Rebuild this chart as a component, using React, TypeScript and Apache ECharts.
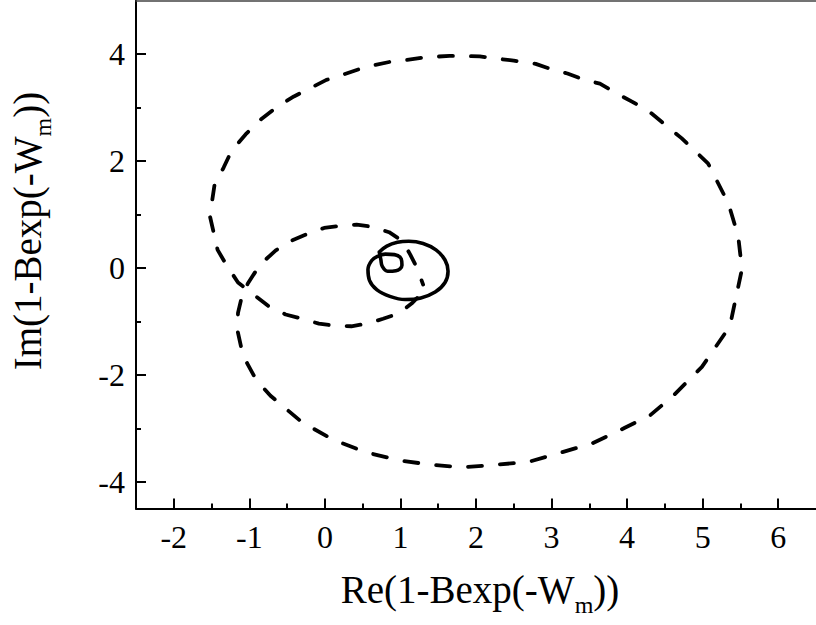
import React, { useEffect, useRef } from "react";
import * as echarts from "echarts";

// ---- data ----
const xMajorTicks = [-2, -1, 0, 1, 2, 3, 4, 5, 6];
const xMinorTicks = [-1.5, -0.5, 0.5, 1.5, 2.5, 3.5, 4.5, 5.5];
const yMajorTicks = [-4, -2, 0, 2, 4];
const yMinorTicks = [-3, -1, 1, 3];

const xTitle = "Re(1-Bexp(-W{m|m}))";
const yTitle = "Im(1-Bexp(-W{m|m}))";

// dashed spiral (Re, Im), in drawing order
const dashedCurve: [number, number][] = [
  [1.22, -0.56], [1.16, -0.65], [0.98, -0.85], [0.77, -0.95], [0.56, -1.04],
  [0.35, -1.09], [0.12, -1.08], [-0.08, -1.04], [-0.3, -0.95], [-0.52, -0.87],
  [-0.74, -0.72], [-0.94, -0.5], [-1.04, -0.39], [-1.15, -0.27], [-1.3, 0.05],
  [-1.42, 0.34], [-1.47, 0.65], [-1.52, 0.96], [-1.49, 1.28], [-1.46, 1.56],
  [-1.34, 1.88], [-1.24, 2.18], [-1.05, 2.5], [-0.84, 2.79], [-0.63, 3.02],
  [-0.41, 3.21], [-0.2, 3.36], [0.02, 3.52], [0.22, 3.61], [0.45, 3.72],
  [0.66, 3.8], [0.87, 3.86], [1.07, 3.89], [1.31, 3.94], [1.65, 3.97],
  [2.05, 3.96], [2.5, 3.88], [2.79, 3.82], [3.02, 3.71], [3.21, 3.64],
  [3.44, 3.52], [3.64, 3.45], [3.87, 3.26], [4.07, 3.11], [4.29, 2.93],
  [4.72, 2.43], [5.07, 1.96], [5.34, 1.21], [5.47, 0.6], [5.52, -0.02],
  [5.43, -0.62], [5.36, -1.09], [4.99, -1.85], [4.61, -2.39], [4.31, -2.75],
  [3.97, -2.99], [3.54, -3.28], [3.11, -3.46], [2.69, -3.63], [2.26, -3.68],
  [1.83, -3.73], [1.4, -3.68], [0.98, -3.6], [0.55, -3.45], [0.12, -3.22],
  [-0.3, -2.89], [-0.72, -2.39], [-0.91, -2.09], [-1.03, -1.78], [-1.11, -1.47],
  [-1.16, -1.15], [-1.15, -0.84], [-1.1, -0.54], [-1.02, -0.29], [-0.86, 0.06],
  [-0.65, 0.33], [-0.43, 0.52], [-0.21, 0.65], [-0.01, 0.75], [0.21, 0.79],
  [0.42, 0.81], [0.63, 0.77], [0.85, 0.67], [1.03, 0.5], [1.13, 0.25],
  [1.22, 0.0], [1.3, -0.31],
];

// solid curve (Re, Im)
const solidCurve: [number, number][] = [
  [0.72, 0.3], [0.82, 0.41], [0.96, 0.48], [1.11, 0.5], [1.3, 0.46],
  [1.47, 0.34], [1.59, 0.15], [1.63, -0.06], [1.59, -0.27], [1.46, -0.45],
  [1.27, -0.56], [1.06, -0.59], [0.86, -0.53], [0.69, -0.41], [0.59, -0.23],
  [0.57, -0.03], [0.62, 0.14], [0.7, 0.22], [0.8, 0.26], [0.92, 0.25],
  [1.01, 0.17], [1.02, 0.05], [0.94, -0.05], [0.83, -0.06], [0.76, 0.03],
  [0.74, 0.16], [0.72, 0.3],
];

const FONT = "Liberation Serif";

export default function App() {
  const ref = useRef<HTMLDivElement>(null);

  useEffect(() => {
    if (!ref.current) return;
    const chart = echarts.init(ref.current, undefined, { renderer: "svg" });

    const black = "#000";
    const xCommon = { type: "value", min: -2.5, max: 6.5, splitLine: { show: false } };
    const yCommon = { type: "value", min: -4.5, max: 5, splitLine: { show: false } };
    const labelStyle = {
      show: true,
      color: black,
      fontSize: 32,
      fontFamily: FONT,
      fontWeight: "normal",
      formatter: (v: number) => String(v),
    };

    chart.setOption({
      animation: false,
      backgroundColor: "#fff",
      textStyle: { fontFamily: FONT, fontSize: 32, color: black },
      grid: { left: 136, top: 0.8, width: 688.3, height: 507.7, containLabel: false },
      xAxis: [
        {
          ...xCommon,
          position: "bottom",
          axisLine: { show: true, onZero: false, lineStyle: { color: black, width: 2 } },
          axisTick: {
            show: true, inside: true, length: 10,
            lineStyle: { color: black, width: 2 },
            customValues: xMajorTicks,
          },
          axisLabel: { ...labelStyle, margin: 12, customValues: xMajorTicks },
        },
        {
          ...xCommon,
          position: "bottom",
          axisLine: { show: false, onZero: false },
          axisTick: {
            show: true, inside: true, length: 5,
            lineStyle: { color: black, width: 2 },
            customValues: xMinorTicks,
          },
          axisLabel: { show: false },
        },
        {
          ...xCommon,
          position: "top",
          axisLine: { show: true, onZero: false, lineStyle: { color: "#444", width: 1.5 } },
          axisTick: { show: false },
          axisLabel: { show: false },
        },
      ],
      yAxis: [
        {
          ...yCommon,
          position: "left",
          axisLine: { show: true, onZero: false, lineStyle: { color: black, width: 2 } },
          axisTick: {
            show: true, inside: true, length: 10,
            lineStyle: { color: black, width: 2 },
            customValues: yMajorTicks,
          },
          axisLabel: { ...labelStyle, margin: 11, customValues: yMajorTicks },
        },
        {
          ...yCommon,
          position: "left",
          axisLine: { show: false, onZero: false },
          axisTick: {
            show: true, inside: true, length: 5,
            lineStyle: { color: black, width: 2 },
            customValues: yMinorTicks,
          },
          axisLabel: { show: false },
        },
      ],
      graphic: [
        {
          type: "text",
          x: 480,
          y: 589,
          style: {
            text: xTitle,
            fill: black,
            fontSize: 39,
            fontFamily: FONT,
            align: "center",
            verticalAlign: "middle",
            rich: { m: { fontSize: 24, fontFamily: FONT, fill: black, padding: [32, 0, 0, 0] } },
          },
        },
        {
          type: "text",
          x: 27,
          y: 231,
          rotation: Math.PI / 2,
          style: {
            text: yTitle,
            fill: black,
            fontSize: 39,
            fontFamily: FONT,
            align: "center",
            verticalAlign: "middle",
            rich: { m: { fontSize: 24, fontFamily: FONT, fill: black, padding: [32, 0, 0, 0] } },
          },
        },
      ],
      series: [
        {
          type: "line",
          xAxisIndex: 0,
          yAxisIndex: 0,
          data: dashedCurve,
          showSymbol: false,
          symbol: "none",
          smooth: false,
          lineStyle: { color: black, width: 3.8, type: [14, 18], cap: "round", join: "round" },
          silent: true,
        },
        {
          type: "line",
          xAxisIndex: 0,
          yAxisIndex: 0,
          data: solidCurve,
          showSymbol: false,
          symbol: "none",
          smooth: 0.4,
          lineStyle: { color: black, width: 3.6, type: "solid", cap: "round", join: "round" },
          silent: true,
        },
      ],
    });

    return () => chart.dispose();
  }, []);

  return (
    <div
      ref={ref}
      style={{ position: "absolute", left: 0, top: 0, width: 816, height: 625, background: "#fff" }}
    />
  );
}
